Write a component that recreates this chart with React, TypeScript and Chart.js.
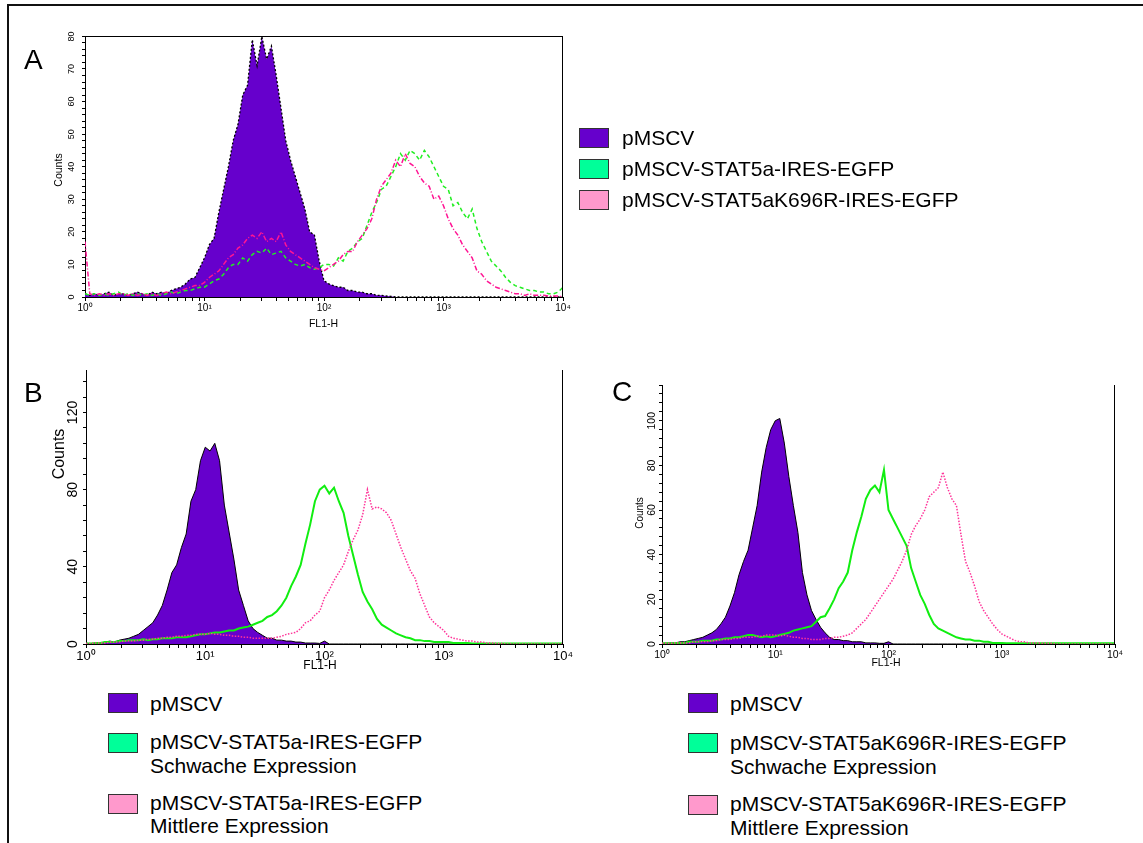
import React, { useEffect, useRef } from 'react';
import { Chart, registerables } from 'chart.js';

Chart.register(...registerables);

// ---------- data ----------
// Histogram counts on a log grid: bin i sits at 10^(i * BIN_STEP_DECADES), i = 0..100 (10^0 .. 10^4)
const BIN_STEP_DECADES = 0.04;
const DECADE_LABELS = ['10\u2070', '10\u00B9', '10\u00B2', '10\u00B3', '10\u2074'];
const TICK_MULTIPLIERS = [1, 2, 3, 4, 5, 6, 7, 8, 9];
const DECADES = [1, 10, 100, 1000];

const A_PMSCV = [
  1, 0.5, 1, 0.5, 1, 1.5, 0.5, 1, 1, 0.5,
  1, 1.5, 1, 0.5, 1.5, 1, 1.5, 1, 2, 2.5,
  3, 4, 5.5, 6, 9, 12, 16, 18, 26, 33,
  40, 48, 53, 62, 65, 79, 71, 80, 73, 77,
  68, 58, 48, 42, 37, 32, 27, 20, 19, 11,
  5, 4, 3.5, 3, 3, 2, 2, 1.5, 1.5, 1,
  1, 0.5, 0.5, 0.3, 0.2, 0, 0, 0, 0, 0,
  0, 0, 0, 0, 0, 0, 0, 0, 0, 0,
  0, 0, 0, 0, 0, 0, 0, 0, 0, 0,
  0, 0, 0, 0, 0, 0, 0, 0, 0, 0,
  0,
];
const A_STAT5A = [
  1, 0.5, 1, 0.5, 1, 0.5, 1, 1.5, 0.5, 1,
  0.5, 1, 0.5, 1, 0.5, 1, 0.5, 1, 1.5, 1,
  1.5, 2, 2, 2.5, 3, 3, 4, 5, 5.5, 7,
  9, 10, 10, 12, 11, 13, 14, 13.5, 15, 13,
  13.5, 14, 12, 11, 10, 9.5, 10, 9, 8.5, 9,
  10, 10, 9.5, 12, 11, 14, 15, 17, 18, 22,
  26, 29, 33, 34, 37, 40, 44, 42, 45, 44,
  42, 45, 43, 40, 37, 34, 33, 28, 29, 26,
  24, 27, 21, 17, 14, 11, 9.5, 8, 6, 4.5,
  3.5, 3, 2.5, 2, 2, 1.5, 1.5, 1, 1, 1.5,
  3,
];
const A_K696R = [
  17, 1, 0.5, 1, 0.5, 1, 0.5, 1, 1, 0.5,
  1, 0.5, 1, 0.5, 1, 0.5, 1, 1.5, 1, 1.5,
  2, 2.5, 3, 3.5, 3.5, 4.5, 6, 7, 8, 10,
  12, 13, 15, 16, 18, 19, 18, 20, 17, 18,
  17, 20, 16, 14, 13, 12, 11, 10, 9, 8.5,
  8, 9, 10, 11, 13, 14, 14, 17, 19, 21,
  24, 30, 34, 36, 38, 42, 40, 44, 41, 40,
  37, 35, 34, 30, 31, 28, 24, 21, 19, 16,
  14, 12, 8, 7, 5, 4, 3, 2.5, 2, 1.5,
  1, 1, 0.5, 1, 0.5, 0.5, 0.5, 0.3, 0.3, 0.3,
  0,
];

const B_PMSCV = [
  0.5, 0, 0.3, 0.5, 1, 1.5, 1, 2, 2.5, 3,
  4, 5, 7, 9, 11, 15, 20, 28, 37, 41,
  50, 57, 74, 80, 95, 102, 100, 104, 95, 72,
  58, 44, 28, 20, 12, 8, 6, 4.5, 3, 3,
  2, 2, 1.5, 1.5, 1, 1, 0.5, 0.5, 0.5, 0.3,
  1.5, 0, 0, 0, 0, 0, 0, 0, 0, 0,
  0, 0, 0, 0, 0, 0, 0, 0, 0, 0,
  0, 0, 0, 0, 0, 0, 0, 0, 0, 0,
  0, 0, 0, 0, 0, 0, 0, 0, 0, 0,
  0, 0, 0, 0, 0, 0, 0, 0, 0, 0,
  0,
];
const B_STAT5A_LOW = [
  0.3, 0.3, 0.5, 0.5, 1, 1, 1, 1.5, 1.5, 2,
  2, 2, 2.5, 2, 2.5, 2.5, 3, 3, 3, 3.5,
  3.5, 3.5, 4, 4.5, 5, 5, 5.5, 6, 6, 6.5,
  7, 7, 8, 8.5, 9, 10, 11, 12, 14, 15,
  17, 20, 24, 30, 35, 41, 52, 62, 74, 80,
  82, 78, 81, 74, 68, 56, 46, 36, 27, 22,
  18, 13, 10, 8.5, 7, 5.5, 4.5, 3.5, 3, 2,
  2, 1.5, 1.5, 1, 1, 1, 1, 0.5, 0.5, 0.5,
  0.5, 0.3, 0.3, 0.3, 0.3, 0.3, 0.3, 0.3, 0.3, 0.3,
  0.3, 0.3, 0.3, 0.3, 0.3, 0.3, 0.3, 0.3, 0.3, 0.3,
  0.3,
];
const B_STAT5A_MID = [
  0.3, 0.3, 0.5, 0.5, 0.5, 1, 1, 1, 1.5, 1.5,
  1.5, 2, 2, 2.5, 2.5, 3, 3, 3.5, 3.5, 4,
  4, 4.5, 4.5, 5, 5, 5, 5.5, 5, 5, 4.5,
  4.5, 4, 4, 3.5, 3.5, 3, 3, 3, 3, 3,
  3.5, 4, 5, 5.5, 6, 8, 11, 12, 15, 17,
  24, 28, 33, 37, 41, 48, 54, 59, 67, 80,
  70, 71, 70, 68, 64, 57, 50, 44, 38, 34,
  26, 20, 14, 11, 9, 7, 4, 3, 2.5, 2,
  1.5, 1.5, 1, 1, 0.5, 0.5, 0.3, 0.3, 0, 0,
  0, 0, 0, 0, 0, 0, 0, 0, 0, 0,
  0,
];

const C_PMSCV = [
  0.3, 0.3, 0.5, 0.5, 1, 1, 1.5, 2, 2.5, 3,
  4, 5, 6.5, 9, 12, 17, 23, 31, 37, 42,
  52, 62, 77, 88, 96, 100, 101, 90, 75, 62,
  50, 32, 22, 15, 11, 7.5, 5, 3, 2, 2,
  1.5, 1.5, 1, 1, 1, 0.5, 0.5, 0.5, 0.3, 0.3,
  1, 0, 0, 0, 0, 0, 0, 0, 0, 0,
  0, 0, 0, 0, 0, 0, 0, 0, 0, 0,
  0, 0, 0, 0, 0, 0, 0, 0, 0, 0,
  0, 0, 0, 0, 0, 0, 0, 0, 0, 0,
  0, 0, 0, 0, 0, 0, 0, 0, 0, 0,
  0,
];
const C_K696R_LOW = [
  0.3, 0.3, 0.3, 0.5, 0.5, 0.5, 1, 1, 1, 1.5,
  1.5, 1.5, 2, 2, 2.5, 2.5, 3, 3, 3.5, 4,
  4, 3.5, 3, 3.5, 3, 3.5, 4, 4.5, 5, 6,
  6.5, 7, 7.5, 8, 10, 12, 12.5, 16, 20, 25,
  28, 32, 42, 50, 57, 65, 69, 71, 68, 78,
  60, 56, 52, 48, 44, 34, 28, 22, 18, 13,
  9, 7, 6, 5, 4, 3, 2.5, 2, 2, 1.5,
  1.5, 1, 1, 0.5, 0.5, 0.5, 0.3, 0.3, 0.3, 0.3,
  0.3, 0.3, 0.3, 0.3, 0.3, 0.3, 0.3, 0.3, 0.3, 0.3,
  0.3, 0.3, 0.3, 0.3, 0.3, 0.3, 0.3, 0.3, 0.3, 0.3,
  0.3,
];
const C_K696R_MID = [
  0.3, 0.3, 0.3, 0.5, 0.5, 0.5, 0.5, 1, 1, 1,
  1, 1.5, 1.5, 2, 2, 2, 2.5, 2.5, 3, 3,
  3, 3.5, 3.5, 4, 4, 4, 3.5, 4, 3.5, 3,
  3, 2.5, 2.5, 2, 2, 2, 2.5, 2.5, 3, 3,
  3.5, 4, 5, 7, 9, 11, 14, 17, 20, 23,
  26, 29, 33, 37, 42, 49, 53, 56, 60, 66,
  68, 70, 77, 70, 65, 62, 49, 37, 32, 26,
  19, 15, 12, 9, 6.5, 4.5, 3.5, 2.5, 1.5, 1,
  1, 0.5, 0.5, 0.5, 0.3, 0.3, 0.3, 0, 0, 0,
  0, 0, 0, 0, 0, 0, 0, 0, 0, 0,
  0,
];

// ---------- helpers ----------
const FONT = '"Liberation Sans", Arial, Helvetica, sans-serif';
const PURPLE = '#6600CC';

const toPoints = (counts: number[]) =>
  counts.map((c, i) => ({ x: Math.pow(10, i * BIN_STEP_DECADES), y: c }));

const LOG_TICKS: number[] = [];
DECADES.forEach((d) => TICK_MULTIPLIERS.forEach((m) => LOG_TICKS.push(d * m)));
LOG_TICKS.push(10000);

const framePlugin = {
  id: 'frame',
  afterDraw(chart: any, _args: any, opts: any) {
    const { ctx, chartArea } = chart;
    const { left, right, top, bottom } = chartArea;
    ctx.save();
    ctx.strokeStyle = '#000';
    ctx.lineWidth = 1;
    ctx.beginPath();
    if (opts && opts.top) {
      ctx.moveTo(left, Math.round(top) + 0.5);
      ctx.lineTo(right, Math.round(top) + 0.5);
    }
    if (opts && opts.right) {
      ctx.moveTo(Math.round(right) - 0.5, top);
      ctx.lineTo(Math.round(right) - 0.5, bottom);
    }
    ctx.stroke();
    ctx.restore();
  },
};

type Panel = {
  left: number; top: number; right: number; bottom: number;
  yMax: number; yStep: number; yMajor: number;
  yFont: number; yPad: number; xFont: number; xPad: number;
  frameTop: boolean;
  datasets: any[];
};

const Y_W = 45;
const X_H = 40;
const PAD_T = 10;
const PAD_R = 20;

function HistChart({ p }: { p: Panel }) {
  const ref = useRef<HTMLCanvasElement | null>(null);
  const width = p.right - p.left + Y_W + PAD_R;
  const height = p.bottom - p.top + PAD_T + X_H;
  useEffect(() => {
    if (!ref.current) return;
    const chart = new Chart(ref.current, {
      type: 'line',
      data: { datasets: p.datasets },
      plugins: [framePlugin],
      options: {
        animation: false,
        responsive: false,
        maintainAspectRatio: false,
        layout: { padding: { left: 0, top: PAD_T, right: PAD_R, bottom: 0 } },
        elements: { point: { radius: 0 }, line: { tension: 0 } },
        plugins: {
          legend: { display: false },
          tooltip: { enabled: false },
          frame: { top: p.frameTop, right: true },
        } as any,
        scales: {
          x: {
            type: 'logarithmic',
            min: 1,
            max: 10000,
            afterBuildTicks: (s: any) => {
              s.ticks = LOG_TICKS.map((v) => ({ value: v }));
            },
            afterFit: (s: any) => { s.height = X_H; },
            ticks: {
              autoSkip: false,
              maxRotation: 0,
              minRotation: 0,
              padding: p.xPad,
              color: '#000',
              font: { family: FONT, size: p.xFont },
              callback: (v: any) => {
                const e = Math.log10(Number(v));
                const r = Math.round(e);
                return Math.abs(e - r) < 1e-6 ? DECADE_LABELS[r] : '';
              },
            },
            grid: { drawOnChartArea: false, drawTicks: true, tickLength: 4, color: '#000', lineWidth: 1 },
            border: { display: true, color: '#000', width: 1 },
          },
          y: {
            type: 'linear',
            min: 0,
            max: p.yMax,
            afterFit: (s: any) => { s.width = Y_W; },
            ticks: {
              stepSize: p.yStep,
              autoSkip: false,
              includeBounds: false,
              minRotation: 90,
              maxRotation: 90,
              crossAlign: 'center',
              padding: p.yPad,
              color: '#000',
              font: { family: FONT, size: p.yFont },
              callback: (v: any) => (Number(v) % p.yMajor === 0 ? String(v) : ''),
            },
            grid: { drawOnChartArea: false, drawTicks: true, tickLength: 3, color: '#000', lineWidth: 1 },
            border: { display: true, color: '#000', width: 1 },
          },
        },
      } as any,
    });
    return () => chart.destroy();
  }, []);
  return (
    <canvas
      ref={ref}
      width={width}
      height={height}
      style={{ position: 'absolute', left: p.left - Y_W, top: p.top - PAD_T, width, height }}
    />
  );
}

const purpleDs = (counts: number[], dashed: boolean) => ({
  data: toPoints(counts),
  borderColor: '#000',
  borderWidth: dashed ? 1.3 : 1,
  borderDash: dashed ? [2, 2] : [],
  backgroundColor: PURPLE,
  fill: 'origin',
  order: 3,
});
const lineDs = (counts: number[], color: string, w: number, dash: number[], order: number) => ({
  data: toPoints(counts),
  borderColor: color,
  borderWidth: w,
  borderDash: dash,
  fill: false,
  order,
});

const PANEL_A: Panel = {
  left: 85, top: 36, right: 563, bottom: 297,
  yMax: 80, yStep: 2, yMajor: 10, yFont: 9, yPad: 5, xFont: 10, xPad: 1,
  frameTop: true,
  datasets: [
    purpleDs(A_PMSCV, true),
    lineDs(A_STAT5A, '#22EE22', 1.5, [4, 3], 2),
    lineDs(A_K696R, '#FF1493', 1.5, [5, 2, 1, 2], 1),
  ],
};
const PANEL_B: Panel = {
  left: 86, top: 370, right: 563, bottom: 644,
  yMax: 142, yStep: 8, yMajor: 40, yFont: 14, yPad: -2, xFont: 13, xPad: 1,
  frameTop: false,
  datasets: [
    purpleDs(B_PMSCV, false),
    lineDs(B_STAT5A_LOW, '#11EE11', 2, [], 2),
    lineDs(B_STAT5A_MID, '#FF3399', 1.5, [1.5, 1.5], 1),
  ],
};
const PANEL_C: Panel = {
  left: 662, top: 385, right: 1115, bottom: 644,
  yMax: 116, yStep: 4, yMajor: 20, yFont: 10.5, yPad: -1.5, xFont: 10.5, xPad: 1,
  frameTop: false,
  datasets: [
    purpleDs(C_PMSCV, false),
    lineDs(C_K696R_LOW, '#11EE11', 2, [], 2),
    lineDs(C_K696R_MID, '#FF3399', 1.5, [1.5, 1.5], 1),
  ],
};

// ---------- text / legend ----------
const LEG_FONT = 21;
const capTop = (center: number) => center - 11.9;

function Text({ x, y, size, children }: { x: number; y: number; size: number; children: React.ReactNode }) {
  return (
    <div style={{ position: 'absolute', left: x, top: capTop(y), fontSize: size, lineHeight: '24px', whiteSpace: 'nowrap', color: '#000' }}>
      {children}
    </div>
  );
}
function Swatch({ x, y, color }: { x: number; y: number; color: string }) {
  return (
    <div style={{ position: 'absolute', left: x, top: y, width: 30, height: 20, boxSizing: 'border-box', border: '1.5px solid #333', background: color }} />
  );
}
function Rotated({ x, y, size, text }: { x: number; y: number; size: number; text: string }) {
  return (
    <div style={{ position: 'absolute', left: x, top: y, fontSize: size, lineHeight: 1, whiteSpace: 'nowrap', transform: 'translate(-50%, -50%) rotate(-90deg)' }}>
      {text}
    </div>
  );
}
function Centered({ x, y, size, text }: { x: number; y: number; size: number; text: string }) {
  return (
    <div style={{ position: 'absolute', left: x, top: y, fontSize: size, lineHeight: 1, whiteSpace: 'nowrap', transform: 'translate(-50%, -50%)' }}>
      {text}
    </div>
  );
}
function Letter({ x, y, text }: { x: number; y: number; text: string }) {
  return (
    <div style={{ position: 'absolute', left: x, top: y - 3.7, fontSize: 28, lineHeight: '28px' }}>{text}</div>
  );
}

const SWATCH_PURPLE = '#6600CC';
const SWATCH_GREEN = '#00FF99';
const SWATCH_PINK = '#FF99CC';

export default function App() {
  return (
    <div style={{ position: 'absolute', left: 0, top: 0, width: 1143, height: 843, background: '#fff', fontFamily: FONT, overflow: 'hidden' }}>
      <div style={{ position: 'absolute', left: 7, top: 4, width: 1140, height: 845, borderTop: '2px solid #111', borderLeft: '2px solid #111' }} />

      <HistChart p={PANEL_A} />
      <HistChart p={PANEL_B} />
      <HistChart p={PANEL_C} />

      <Letter x={24} y={50} text="A" />
      <Letter x={24} y={383} text="B" />
      <Letter x={612} y={382} text="C" />

      <Rotated x={58} y={170} size={10.5} text="Counts" />
      <Centered x={323.5} y={323} size={10.5} text="FL1-H" />
      <Rotated x={59} y={454} size={16} text="Counts" />
      <Centered x={320} y={665} size={12} text="FL1-H" />
      <Rotated x={640} y={513} size={10} text="Counts" />
      <Centered x={886} y={662} size={10.5} text="FL1-H" />

      {/* Legend A */}
      <Swatch x={579} y={128} color={SWATCH_PURPLE} />
      <Text x={622} y={137.5} size={LEG_FONT}>pMSCV</Text>
      <Swatch x={579} y={159} color={SWATCH_GREEN} />
      <Text x={622} y={168.5} size={LEG_FONT}>pMSCV-STAT5a-IRES-EGFP</Text>
      <Swatch x={579} y={190} color={SWATCH_PINK} />
      <Text x={622} y={199.5} size={LEG_FONT}>pMSCV-STAT5aK696R-IRES-EGFP</Text>

      {/* Legend B */}
      <Swatch x={108} y={693} color={SWATCH_PURPLE} />
      <Text x={150} y={703.5} size={LEG_FONT}>pMSCV</Text>
      <Swatch x={108} y={733} color={SWATCH_GREEN} />
      <Text x={150} y={742} size={LEG_FONT}>pMSCV-STAT5a-IRES-EGFP</Text>
      <Text x={150} y={766} size={LEG_FONT}>Schwache Expression</Text>
      <Swatch x={108} y={793.5} color={SWATCH_PINK} />
      <Text x={150} y={802.5} size={LEG_FONT}>pMSCV-STAT5a-IRES-EGFP</Text>
      <Text x={150} y={826} size={LEG_FONT}>Mittlere Expression</Text>

      {/* Legend C */}
      <Swatch x={688} y={693} color={SWATCH_PURPLE} />
      <Text x={730} y={703.5} size={LEG_FONT}>pMSCV</Text>
      <Swatch x={688} y={733} color={SWATCH_GREEN} />
      <Text x={730} y={742.5} size={LEG_FONT}>pMSCV-STAT5aK696R-IRES-EGFP</Text>
      <Text x={730} y={766.5} size={LEG_FONT}>Schwache Expression</Text>
      <Swatch x={688} y={794.5} color={SWATCH_PINK} />
      <Text x={730} y={803.5} size={LEG_FONT}>pMSCV-STAT5aK696R-IRES-EGFP</Text>
      <Text x={730} y={828} size={LEG_FONT}>Mittlere Expression</Text>
    </div>
  );
}
